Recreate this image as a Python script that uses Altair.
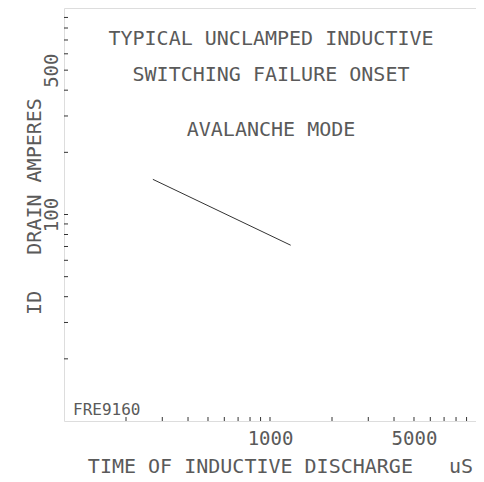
import altair as alt
import pandas as pd

# data
time_us = [270, 1260]
drain_amps = [148, 71]

x_minor = [200, 300, 400, 500, 600, 700, 800, 900, 1000, 2000, 3000, 4000, 5000, 6000, 7000, 8000, 9000]
y_minor = [20, 30, 40, 50, 60, 70, 80, 90, 100, 200, 300, 400, 500, 600, 700, 800, 900]
x_labels = [1000, 5000]
y_labels = [100, 500]

title_lines = ["TYPICAL UNCLAMPED INDUCTIVE", "SWITCHING FAILURE ONSET", "AVALANCHE MODE"]
note = "FRE9160"

W, H = 412, 413
FONT = "DejaVu Sans Mono"
INK = "#333333"
TXT = "#5a5a5a"
FS = 20
LFS = 19

xscale = alt.Scale(type="log", domain=[100, 10000], nice=False)
yscale = alt.Scale(type="log", domain=[10, 1000], nice=False)

line_df = pd.DataFrame({"t": time_us, "a": drain_amps})
xt_df = pd.DataFrame({"t": x_minor})
yt_df = pd.DataFrame({"a": y_minor})

xaxis = alt.Axis(values=x_labels, format="d", tickSize=0, domain=False, grid=False,
                 labelFont=FONT, labelFontSize=LFS, labelColor=TXT,
                 labelPadding=8, title="TIME OF INDUCTIVE DISCHARGE\u00a0\u00a0\u00a0uS",
                 titleFont=FONT, titleFontSize=FS, titleFontWeight="normal", titleColor=TXT,
                 titleX=216, titleY=51, titleAlign="center", titleBaseline="alphabetic")
yaxis = alt.Axis(values=y_labels, format="d", tickSize=0, domain=False, grid=False,
                 labelFont=FONT, labelFontSize=LFS, labelColor=TXT,
                 labelAngle=270, labelAlign="center", labelBaseline="alphabetic", labelPadding=7,
                 title="ID\u00a0\u00a0\u00a0DRAIN AMPERES",
                 titleFont=FONT, titleFontSize=FS, titleFontWeight="normal", titleColor=TXT,
                 titleX=-24, titleY=198, titleAngle=270, titleAlign="center", titleBaseline="alphabetic")

line = alt.Chart(line_df).mark_line(color=INK, strokeWidth=1).encode(
    x=alt.X("t:Q", scale=xscale, axis=xaxis),
    y=alt.Y("a:Q", scale=yscale, axis=yaxis),
)

xticks = alt.Chart(xt_df).mark_rule(color=INK, strokeWidth=1).encode(
    x=alt.X("t:Q", scale=xscale),
    y=alt.value(H), y2=alt.value(H - 4),
)
yticks = alt.Chart(yt_df).mark_rule(color=INK, strokeWidth=1).encode(
    y=alt.Y("a:Q", scale=yscale),
    x=alt.value(0), x2=alt.value(4),
)

title_df = pd.DataFrame({"txt": title_lines, "ypos": [31, 67, 122]})
titles = alt.Chart(title_df).mark_text(font=FONT, fontSize=FS, color=TXT,
                                       align="center", baseline="middle").encode(
    text="txt:N", x=alt.value(207), y=alt.Y("ypos:Q", scale=None),
)

note_txt = alt.Chart(pd.DataFrame({"txt": [note]})).mark_text(
    font=FONT, fontSize=16, color=TXT, align="left", baseline="alphabetic"
).encode(text="txt:N", x=alt.value(9), y=alt.value(407))

chart = alt.layer(line, xticks, yticks, titles, note_txt).properties(
    width=W, height=H,
    autosize=alt.AutoSizeParams(type="none"),
    padding={"left": 56, "top": 0, "right": 0, "bottom": 58},
).configure_view(stroke=INK, strokeWidth=1).configure(background="white")

chart.save("out.html", embed_options={"renderer": "svg", "actions": False})
